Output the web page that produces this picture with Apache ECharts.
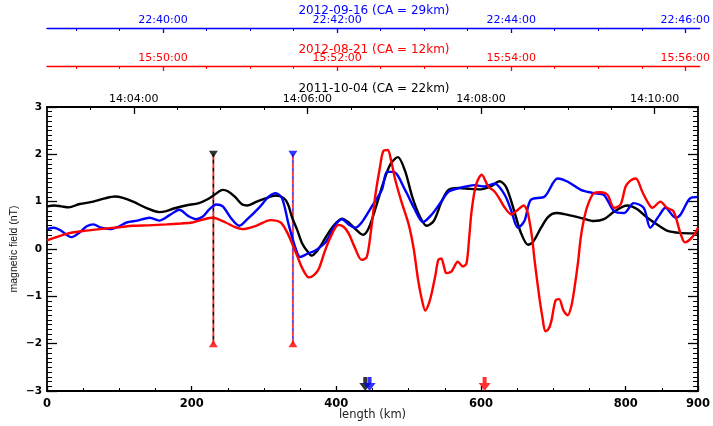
<!DOCTYPE html>
<html>
<head>
<meta charset="utf-8">
<script src="https://cdn.jsdelivr.net/npm/echarts@6/dist/echarts.min.js"></script>
<style>
html,body{margin:0;padding:0;background:#fff;}
#chart{width:713px;height:426px;}
</style>
</head>
<body>
<div id="chart"></div>
<script>
// traces: [length km, field nT]
var blackTrace = [[0,0.90],[10,0.92],[20,0.90],[30,0.88],[45,0.95],[64,1.0],[80,1.07],[94,1.11],[105,1.08],[119,1.0],[137,0.87],[155,0.78],[165,0.80],[174,0.85],[192,0.92],[210,0.97],[222,1.05],[232,1.15],[243,1.25],[250,1.22],[260,1.10],[270,0.94],[277,0.92],[290,1.0],[302,1.07],[316,1.13],[327,1.08],[333,0.95],[339,0.66],[346,0.40],[353,0.11],[360,-0.05],[366,-0.14],[373,-0.05],[380,0.11],[394,0.45],[408,0.64],[417,0.56],[428,0.40],[437,0.30],[445,0.45],[455,0.90],[465,1.40],[475,1.80],[485,1.94],[495,1.65],[505,1.10],[515,0.70],[525,0.49],[535,0.60],[545,0.98],[555,1.25],[570,1.29],[585,1.27],[600,1.26],[614,1.33],[626,1.43],[635,1.30],[645,0.85],[655,0.35],[665,0.09],[672,0.15],[683,0.45],[693,0.68],[704,0.76],[720,0.72],[740,0.65],[756,0.59],[770,0.63],[785,0.80],[802,0.92],[815,0.85],[830,0.66],[845,0.50],[857,0.39],[875,0.34],[894,0.33],[900,0.33]];
var blueTrace = [[0,0.42],[10,0.45],[20,0.38],[34,0.25],[45,0.35],[55,0.48],[64,0.52],[75,0.45],[87,0.42],[100,0.48],[110,0.56],[125,0.60],[142,0.66],[155,0.60],[170,0.72],[183,0.83],[195,0.70],[206,0.63],[215,0.68],[224,0.83],[234,0.94],[243,0.90],[254,0.66],[266,0.49],[277,0.63],[293,0.87],[307,1.11],[316,1.18],[325,1.07],[334,0.52],[344,0.0],[350,-0.17],[360,-0.10],[371,-0.03],[385,0.14],[399,0.52],[408,0.63],[417,0.52],[426,0.45],[435,0.56],[449,0.90],[463,1.25],[470,1.63],[479,1.63],[495,1.25],[508,0.85],[520,0.57],[532,0.73],[545,1.0],[555,1.21],[568,1.28],[591,1.35],[605,1.32],[619,1.38],[633,1.14],[642,0.8],[651,0.45],[660,0.59],[669,1.04],[688,1.11],[706,1.49],[720,1.42],[738,1.25],[756,1.18],[770,1.14],[784,0.80],[798,0.76],[811,0.97],[825,0.87],[834,0.45],[846,0.70],[855,0.87],[869,0.66],[876,0.73],[889,1.07],[900,1.1]];
var redTrace = [[0,0.18],[27,0.32],[50,0.38],[73,0.42],[100,0.46],[119,0.49],[140,0.50],[165,0.52],[185,0.54],[201,0.56],[215,0.62],[229,0.66],[247,0.56],[260,0.46],[270,0.42],[289,0.49],[309,0.61],[323,0.56],[332,0.35],[339,0.11],[346,-0.15],[353,-0.41],[362,-0.60],[369,-0.55],[376,-0.41],[384,-0.05],[392,0.25],[403,0.51],[410,0.47],[417,0.33],[425,0.05],[435,-0.23],[442,-0.17],[448,0.40],[454,1.14],[460,1.70],[465,2.07],[471,2.09],[476,1.85],[481,1.49],[490,1.00],[500,0.52],[507,0.00],[513,-0.65],[518,-1.05],[523,-1.30],[528,-1.15],[532,-0.92],[537,-0.55],[541,-0.23],[545,-0.20],[549,-0.38],[552,-0.51],[559,-0.48],[568,-0.27],[575,-0.37],[580,-0.30],[584,0.30],[587,0.80],[593,1.35],[601,1.57],[610,1.32],[619,1.21],[626,1.05],[633,0.87],[642,0.73],[651,0.83],[659,0.92],[664,0.80],[667,0.59],[671,0.20],[674,-0.23],[681,-1.06],[685,-1.45],[689,-1.74],[693,-1.70],[697,-1.54],[703,-1.09],[708,-1.06],[714,-1.30],[720,-1.40],[725,-1.20],[729,-0.85],[734,-0.30],[738,0.25],[742,0.60],[747,0.90],[756,1.18],[765,1.20],[775,1.14],[784,0.87],[793,0.94],[800,1.32],[807,1.45],[814,1.49],[823,1.21],[830,1.00],[837,0.87],[848,1.00],[857,0.87],[866,0.80],[876,0.32],[882,0.14],[892,0.25],[900,0.45]];

// vertical markers (km) and closest approach arrows (km)
var markBlackKm = 230;
var markBlueKm = 340;
var markTop = 2, markBottom = -2;
var caBlackKm = 440, caBlueKm = 446, caRedKm = 605;

// time axes, minutes past the hour
var blackTime = {hour: '14', min: 3, max: 10.5, major: [4, 6, 8, 10], title: '2011-10-04 (CA = 22km)'};
var redTime = {hour: '15', min: 48 + 40/60, max: 56 + 10/60, major: [50, 52, 54, 56], title: '2012-08-21 (CA = 12km)'};
var blueTime = {hour: '22', min: 38 + 40/60, max: 46 + 10/60, major: [40, 42, 44, 46], title: '2012-09-16 (CA = 29km)'};

var FONT = 'DejaVu Sans';

function minorTicks(t) {
	var out = [];
	for (var v = Math.ceil(t.min * 2) / 2; v < t.max - 1e-6; v += 0.5) {
		if (v <= t.min + 1e-6) continue;
		if (t.major.indexOf(v) >= 0) continue;
		out.push(v);
	}
	return out;
}
function timeFmt(hour) {
	return function (v) {
		var m = Math.round(v);
		return hour + ':' + (m < 10 ? '0' + m : m) + ':00';
	};
}
function timeAxes(t, grid, color, majorLen, lineW) {
	return [{
		gridIndex: grid, type: 'value', position: 'top', min: t.min, max: t.max,
		axisLine: {show: true, onZero: false, lineStyle: {color: color, width: lineW}},
		axisTick: {show: true, inside: true, length: majorLen, customValues: t.major, lineStyle: {color: color, width: 1.3}},
		axisLabel: {show: true, customValues: t.major, formatter: timeFmt(t.hour), color: color, fontFamily: FONT, fontSize: 11, margin: 2},
		splitLine: {show: false}
	}, {
		gridIndex: grid, type: 'value', position: 'top', min: t.min, max: t.max,
		axisLine: {show: false, onZero: false},
		axisTick: {show: true, inside: true, length: 3, customValues: minorTicks(t), lineStyle: {color: color, width: 1}},
		axisLabel: {show: false},
		splitLine: {show: false}
	}];
}

var myChart = echarts.init(document.getElementById('chart'));

var xAxes = [{
	gridIndex: 0, type: 'value', position: 'bottom', min: 0, max: 900, interval: 200,
	name: 'length (km)', nameLocation: 'middle', nameGap: 18, nameMoveOverlap: false,
	nameTextStyle: {color: '#222', fontFamily: FONT, fontSize: 11.5},
	axisLine: {onZero: false, lineStyle: {color: '#000', width: 1.8}},
	axisTick: {inside: true, length: 5, lineStyle: {color: '#000', width: 1.3}},
	minorTick: {show: true, splitNumber: 4, length: 3, lineStyle: {color: '#000', width: 1}},
	axisLabel: {color: '#000', fontFamily: FONT, fontSize: 11.5, fontWeight: 'bold', margin: 7},
	splitLine: {show: false}
}];
xAxes = xAxes.concat(timeAxes(blackTime, 0, '#000', 7, 1.8));
xAxes = xAxes.concat(timeAxes(redTime, 2, '#ff0000', 5, 1.3));
xAxes = xAxes.concat(timeAxes(blueTime, 1, '#0000ff', 5, 1.3));

function yAx(pos, labels) {
	return {
		gridIndex: 0, type: 'value', position: pos, min: -3, max: 3, interval: 1,
		name: labels ? 'magnetic field (nT)' : '', nameLocation: 'middle', nameGap: 27, nameMoveOverlap: false,
		nameTextStyle: {color: '#111', fontFamily: 'Liberation Sans', fontSize: 10.5},
		axisLine: {show: true, onZero: false, lineStyle: {color: '#000', width: 1.8}},
		axisTick: {show: true, inside: true, length: 10, lineStyle: {color: '#000', width: 1.3}},
		minorTick: {show: true, splitNumber: 10, length: 5, lineStyle: {color: '#000', width: 1}},
		axisLabel: {show: labels, color: '#000', fontFamily: FONT, fontSize: 10.5, fontWeight: 'bold', margin: 5,
			formatter: function (v) { return v < 0 ? '\u2212' + (-v) : '' + v; }},
		splitLine: {show: false}
	};
}

var titleStyle = function (c) { return {color: c, fontFamily: FONT, fontSize: 12, fontWeight: 'normal'}; };

function markerLine(km, dashColor) {
	var d = [[km, markBottom], [km, markTop]];
	return [
		{type: 'line', data: d, symbol: 'none', z: 1, silent: true, lineStyle: {color: '#f3c9c9', width: 2.4}},
		{type: 'line', data: d, symbol: 'none', z: 1, silent: true, lineStyle: {color: '#ff2020', width: 1.6, type: [4, 4]}},
		{type: 'line', data: d, symbol: 'none', z: 1, silent: true, lineStyle: {color: dashColor, width: 1.6, type: [4, 4], dashOffset: 4}}
	];
}
var arrowPath = 'path://M4,0 L8,0 L8,6 L12,6 L6,14 L0,6 L4,6 Z';

var series = [];
series = series.concat(markerLine(markBlackKm, '#111'));
series = series.concat(markerLine(markBlueKm, '#5a30d8'));
series.push({type: 'scatter', data: [[markBlackKm, markTop]], symbol: 'triangle', symbolRotate: 180, symbolSize: [9, 7], itemStyle: {color: '#000'}, z: 3});
series.push({type: 'scatter', data: [[markBlueKm, markTop]], symbol: 'triangle', symbolRotate: 180, symbolSize: [9, 7], itemStyle: {color: '#0000ff'}, z: 3});
series.push({type: 'scatter', data: [[markBlackKm, markBottom], [markBlueKm, markBottom]], symbol: 'triangle', symbolSize: [9, 7], itemStyle: {color: '#ff0000'}, z: 3});
series.push({type: 'line', name: '2011-10-04', data: blackTrace, symbol: 'none', smooth: 0.3, z: 4, lineStyle: {color: '#000', width: 2.4}});
series.push({type: 'line', name: '2012-09-16', data: blueTrace, symbol: 'none', smooth: 0.3, z: 5, lineStyle: {color: '#0000ff', width: 2.4}});
series.push({type: 'line', name: '2012-08-21', data: redTrace, symbol: 'none', smooth: 0.3, z: 6, lineStyle: {color: '#ff0000', width: 2.4}});
series.push({type: 'scatter', data: [[caBlackKm, -3]], symbol: arrowPath, symbolSize: [12, 14], symbolOffset: [0, -7], clip: false, itemStyle: {color: '#000'}, z: 7});
series.push({type: 'scatter', data: [[caBlueKm, -3]], symbol: arrowPath, symbolSize: [12, 14], symbolOffset: [0, -7], clip: false, itemStyle: {color: '#0000ff'}, z: 8});
series.push({type: 'scatter', data: [[caRedKm, -3]], symbol: arrowPath, symbolSize: [12, 14], symbolOffset: [0, -7], clip: false, itemStyle: {color: '#ff0000'}, z: 8});

var option = {
	backgroundColor: '#fff',
	animation: false,
	title: [
		{text: blueTime.title, left: 374, top: 5, textAlign: 'center', padding: 0, textStyle: titleStyle('#0000ff')},
		{text: redTime.title, left: 374, top: 44, textAlign: 'center', padding: 0, textStyle: titleStyle('#ff0000')},
		{text: blackTime.title, left: 374, top: 83, textAlign: 'center', padding: 0, textStyle: titleStyle('#000')}
	],
	grid: [
		{left: 47, right: 12, top: 107, height: 292},
		{left: 47, right: 12, top: 28, height: 10},
		{left: 47, right: 12, top: 66, height: 10}
	],
	xAxis: xAxes,
	yAxis: [
		yAx('left', true),
		yAx('right', false),
		{gridIndex: 1, type: 'value', show: false, min: 0, max: 1},
		{gridIndex: 2, type: 'value', show: false, min: 0, max: 1}
	],
	series: series
};
myChart.setOption(option);
</script>
</body>
</html>
